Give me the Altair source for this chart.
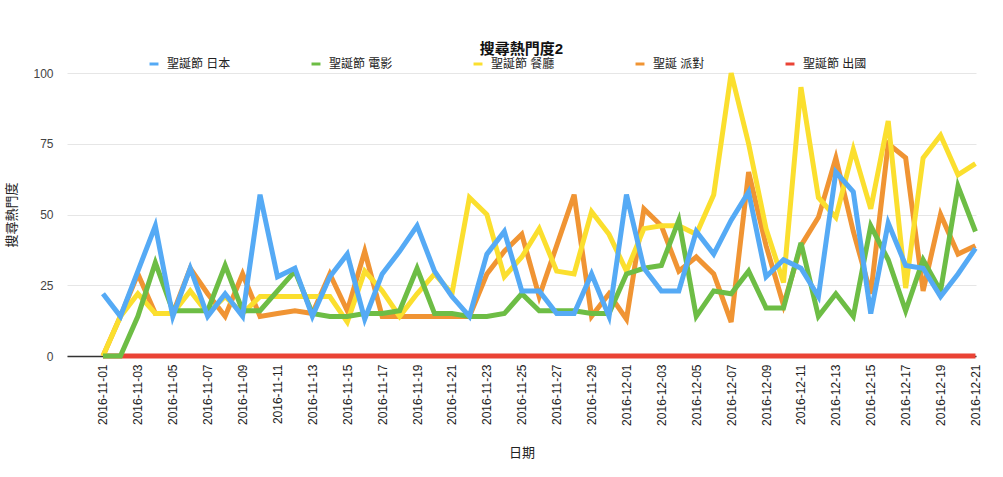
import altair as alt
import pandas as pd

dates = pd.date_range("2016-11-01", "2016-12-21", freq="D").strftime("%Y-%m-%d").tolist()

series_names = ["聖誕節 日本", "聖誕節 電影", "聖誕節 餐廳", "聖誕 派對", "聖誕節 出國"]
series_colors = ["#55aaf5", "#6dbd45", "#fbdf2e", "#f09433", "#ea4335"]

japan = [22, 14, 30, 46, 14, 31, 14, 22, 14, 57, 28, 31, 14, 28, 36, 13, 29, 37, 46, 30,
         21, 14, 36, 44, 23, 23, 15, 15, 29, 14, 57, 31, 23, 23, 44, 36, 48, 58, 28, 34,
         31, 21, 65, 58, 15, 47, 32, 31, 21, 29, 38]
movie = [0, 0, 14, 33, 16, 16, 16, 32, 16, 16, 23, 30, 15, 14, 14, 15, 15, 16, 31, 15,
         15, 14, 14, 15, 22, 16, 16, 16, 15, 15, 29, 31, 32, 48, 14, 23, 22, 30, 17, 17,
         40, 14, 22, 14, 46, 34, 16, 34, 23, 60, 44]
restaurant = [0, 14, 22, 15, 15, 23, 15, 21, 15, 21, 21, 21, 21, 21, 12, 30, 23, 14, 22, 29,
              22, 56, 50, 28, 35, 45, 30, 29, 51, 43, 30, 45, 46, 46, 43, 57, 100, 75, 45, 26,
              95, 56, 49, 73, 52, 83, 24, 70, 78, 64, 68]
party = [0, 14, 29, 15, 15, 31, 22, 14, 29, 14, 15, 16, 15, 29, 16, 37, 14, 14, 14, 14,
         14, 14, 29, 37, 43, 21, 39, 57, 14, 22, 13, 52, 46, 30, 35, 29, 12, 65, 39, 18,
         39, 49, 70, 44, 22, 75, 70, 23, 50, 36, 39]
abroad = [0] * 51

tick_dates = dates[::2]

values = [japan, movie, restaurant, party, abroad]
rows = []
for name, vals in zip(series_names, values):
    for d, v in zip(dates, vals):
        rows.append({"日期": d, "系列": name, "搜尋熱門度": v})
df = pd.DataFrame(rows)

def dt(s, hours=0, minutes=0):
    y, m, d = [int(p) for p in s.split("-")]
    return alt.DateTime(year=y, month=m, date=d, hours=hours, minutes=minutes, utc=True)

font = "Liberation Sans, Noto Sans CJK TC, sans-serif"

x_enc = alt.X(
    "日期:T",
    scale=alt.Scale(type="utc", domain=[dt("2016-10-29", 22, 30), dt("2016-12-21", 0, 45)]),
    axis=alt.Axis(
        values=[dt(s) for s in tick_dates],
        format="%Y-%m-%d",
        labelAngle=270,
        labelPadding=8,
        ticks=False,
        tickSize=0,
        grid=False,
        domain=True,
        domainColor="#333333",
        domainWidth=1.5,
        title="日期",
        titlePadding=21,
        titleFontWeight="normal",
        titleFontSize=13,
        titleColor="#222222",
        labelFontSize=12,
        labelColor="#222222",
        labelFlush=False,
        labelOverlap=False,
    ),
)
y_enc = alt.Y(
    "搜尋熱門度:Q",
    scale=alt.Scale(domain=[0, 100], nice=False),
    axis=alt.Axis(
        values=[0, 25, 50, 75, 100],
        ticks=False,
        tickSize=0,
        domain=False,
        grid=True,
        gridColor="#e6e6e6",
        labelPadding=14,
        labelFontSize=12,
        labelColor="#444444",
        title="搜尋熱門度",
        titlePadding=14,
        titleFontWeight="normal",
        titleFontSize=13,
        titleColor="#222222",
    ),
)
color_enc = alt.Color(
    "系列:N",
    scale=alt.Scale(domain=series_names, range=series_colors),
    sort=series_names,
    legend=alt.Legend(
        orient="none",
        legendX=81,
        legendY=-15,
        direction="horizontal",
        title=None,
        symbolType="stroke",
        symbolStrokeWidth=3,
        symbolSize=80,
        labelFontSize=12,
        labelColor="#222222",
        columnPadding=74,
        labelOffset=7,
        padding=0,
    ),
)

base = alt.Chart(df)
layers = []
for name in reversed(series_names):
    layers.append(
        base.transform_filter(alt.datum["系列"] == name)
        .mark_line(strokeWidth=5)
        .encode(x=x_enc, y=y_enc, color=color_enc)
    )

chart = (
    alt.layer(*layers)
    .properties(
        width=909,
        height=283,
        autosize="none",
        padding={"left": 67, "top": 73, "right": 27, "bottom": 121},
        title=alt.TitleParams(
            "搜尋熱門度2",
            fontSize=15,
            fontWeight="bold",
            color="#111111",
            anchor="middle",
            offset=1,
            font=font,
        ),
    )
    .configure(font=font)
    .configure_view(stroke=None)
)

chart.save("out.html", embed_options={"renderer": "svg", "actions": False})
